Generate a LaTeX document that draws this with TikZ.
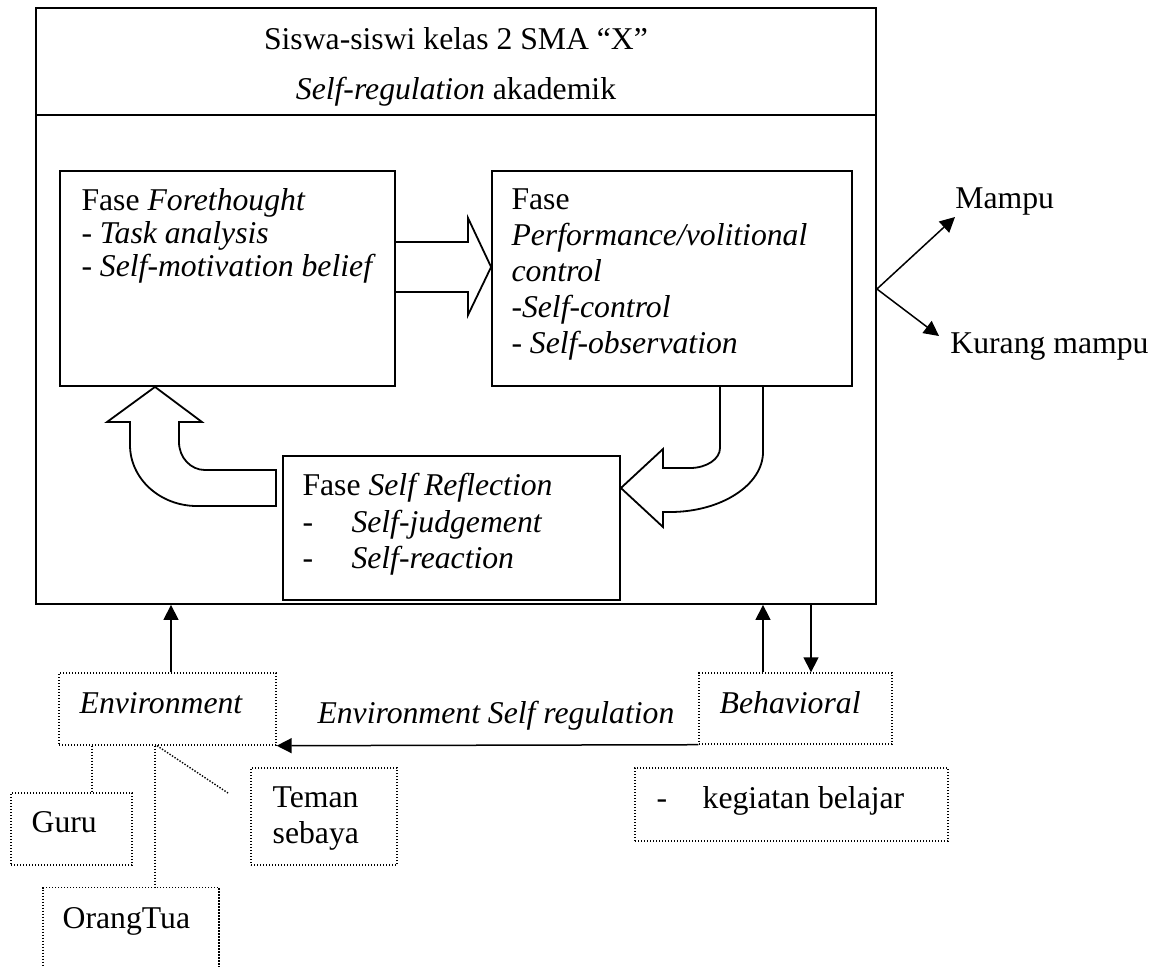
\documentclass[tikz,border=0pt]{standalone}
\usepackage{fontspec}
\setmainfont{Liberation Serif}
\usetikzlibrary{positioning,arrows.meta}

\begin{document}
\begin{tikzpicture}[x=0.5pt, y=-0.5pt,
    font=\fontsize{15.85}{16.5}\selectfont,
    box/.style={draw, line width=0.9pt, inner sep=0pt},
    dbox/.style={draw, line width=0.7pt, dash pattern=on 0.7pt off 0.8pt, inner sep=0pt},
    dline/.style={line width=0.7pt, dash pattern=on 0.7pt off 0.8pt},
    txt/.style={inner sep=0pt, align=left},
    arr/.style={line width=0.75pt, -{Triangle[length=7.5pt, width=7.5pt]}},
    blk/.style={line width=0.9pt, line join=miter}]
  \useasboundingbox (0,0) rectangle (1154,966);
  \clip (0,0) rectangle (1154,966);

  % main frame
  \node[box, minimum width=420pt, minimum height=298pt] (sr) at (456,306) {};
  \draw[line width=0.9pt] (sr.west |- 0,115) -- (sr.east |- 0,115);
  \node[anchor=base] (title) at (456,49) {Siswa-siswi kelas 2 SMA “X”};
  \node[anchor=base] (subtitle) at (456,99) {\textit{Self-regulation} akademik};

  % the three phases
  \node[box, minimum width=167.5pt, minimum height=107.5pt] (fore) at (227.5,278.5) {};
  \node[txt, below right=9pt and 11pt of fore.north west] (fore_txt)
    {Fase \textit{Forethought}\\- \textit{Task analysis}\\- \textit{Self-motivation belief}};
  \node[box, minimum width=180pt, minimum height=107.5pt] (perf) at (672,278.5) {};
  \node[txt, font=\fontsize{15.85}{18}\selectfont, below right=9pt and 10pt of perf.north west] (perf_txt)
    {Fase\\\textit{Performance/volitional}\\\textit{control}\\\textit{-Self-control}\\- \textit{Self-observation}};
  \node[box, minimum width=168.5pt, minimum height=72pt] (refl) at (451.5,528) {};
  \node[txt, font=\fontsize{15.85}{18.25}\selectfont, below right=9pt and 10pt of refl.north west] (refl_txt)
    {Fase \textit{Self Reflection}\\\makebox[24.5pt][l]{-}\textit{Self-judgement}\\\makebox[24.5pt][l]{-}\textit{Self-reaction}};

  % block arrows
  \draw[blk] (fore.east |- 0,242) -- (468,242) -- (468,218) -- (perf.west |- 0,267)
    -- (468,315) -- (468,292) -- (fore.east |- 0,292);
  \draw[blk] (perf.south -| 720,0) -- (720,448) .. controls (720,459) and (706.6,468) .. (690,468)
    -- (663,468) -- (663,449) -- (refl.east |- 0,488) -- (663,527) -- (663,512) -- (670,512)
    .. controls (721,512) and (763,485) .. (763,452) -- (perf.south -| 763,0);
  \draw[blk] (276,470) -- (205,470) .. controls (190.6,470) and (179,457.5) .. (179,442)
    -- (179,422) -- (202,422) -- (fore.south -| 155,0) -- (107,422) -- (130,422) -- (130,445)
    .. controls (130,478.7) and (160,506) .. (197,506) -- (276,506) -- cycle;

  % outcomes
  \coordinate (split) at (sr.east |- 0,289);
  \node[anchor=base west, inner sep=0pt] (mampu) at (955,208) {Mampu};
  \node[anchor=base west, inner sep=0pt] (kurang) at (950,353) {Kurang mampu};
  \draw[arr] (split) -- ([yshift=-4.5pt]mampu.base west);
  \draw[arr] (split) -- ([xshift=-5.5pt, yshift=8.5pt]kurang.base west);

  % environment and behavioral
  \node[dbox, minimum width=108.5pt, minimum height=36pt] (env) at (167.5,709) {};
  \node[txt, below right=10pt and 10.5pt of env.north west] (env_txt) {\textit{Environment}};
  \node[dbox, minimum width=96.5pt, minimum height=35.5pt] (beh) at (795.5,708.5) {};
  \node[txt, below right=9.5pt and 10.5pt of beh.north west] (beh_txt) {\textit{Behavioral}};
  \node[dbox, minimum width=156.5pt, minimum height=36.5pt] (keg) at (791.5,804.5) {};
  \node[txt, below right=9.5pt and 11pt of keg.north west] (keg_txt) {\makebox[23pt][l]{-}kegiatan belajar};

  \node[dbox, minimum width=60.5pt, minimum height=36pt] (guru) at (71.5,829) {};
  \node[txt, below right=9.5pt and 10.5pt of guru.north west] (guru_txt) {Guru};
  \node[dbox, minimum width=73pt, minimum height=48.5pt] (teman) at (324,816.5) {};
  \node[txt, font=\fontsize{15.85}{18}\selectfont, below right=9.5pt and 11pt of teman.north west] (teman_txt) {Teman\\sebaya};
  \node[dbox, minimum width=88pt, minimum height=45pt] (ortu) at (131,932.5) {};
  \node[txt, below right=10pt and 10pt of ortu.north west] (ortu_txt) {OrangTua};

  \draw[arr] (env.north -| 171,0) -- (sr.south -| 171,0);
  \draw[arr] (beh.north -| 763,0) -- (sr.south -| 763,0);
  \draw[arr] (sr.south -| 811,0) -- (beh.north -| 811,0);
  \draw[arr] (beh.south west) -- (env.south east)
    node[pos=0.48, anchor=base, yshift=11pt] (envsr) {\textit{Environment Self regulation}};

  \coordinate (teman_end) at (228,793);
  \draw[dline] (env.south -| 92,0) -- (guru.north -| 92,0);
  \draw[dline] (env.south -| 155,0) -- (ortu.north -| 155,0);
  \draw[dline] (env.south -| 157,0) -- (teman_end);
\end{tikzpicture}
\end{document}
